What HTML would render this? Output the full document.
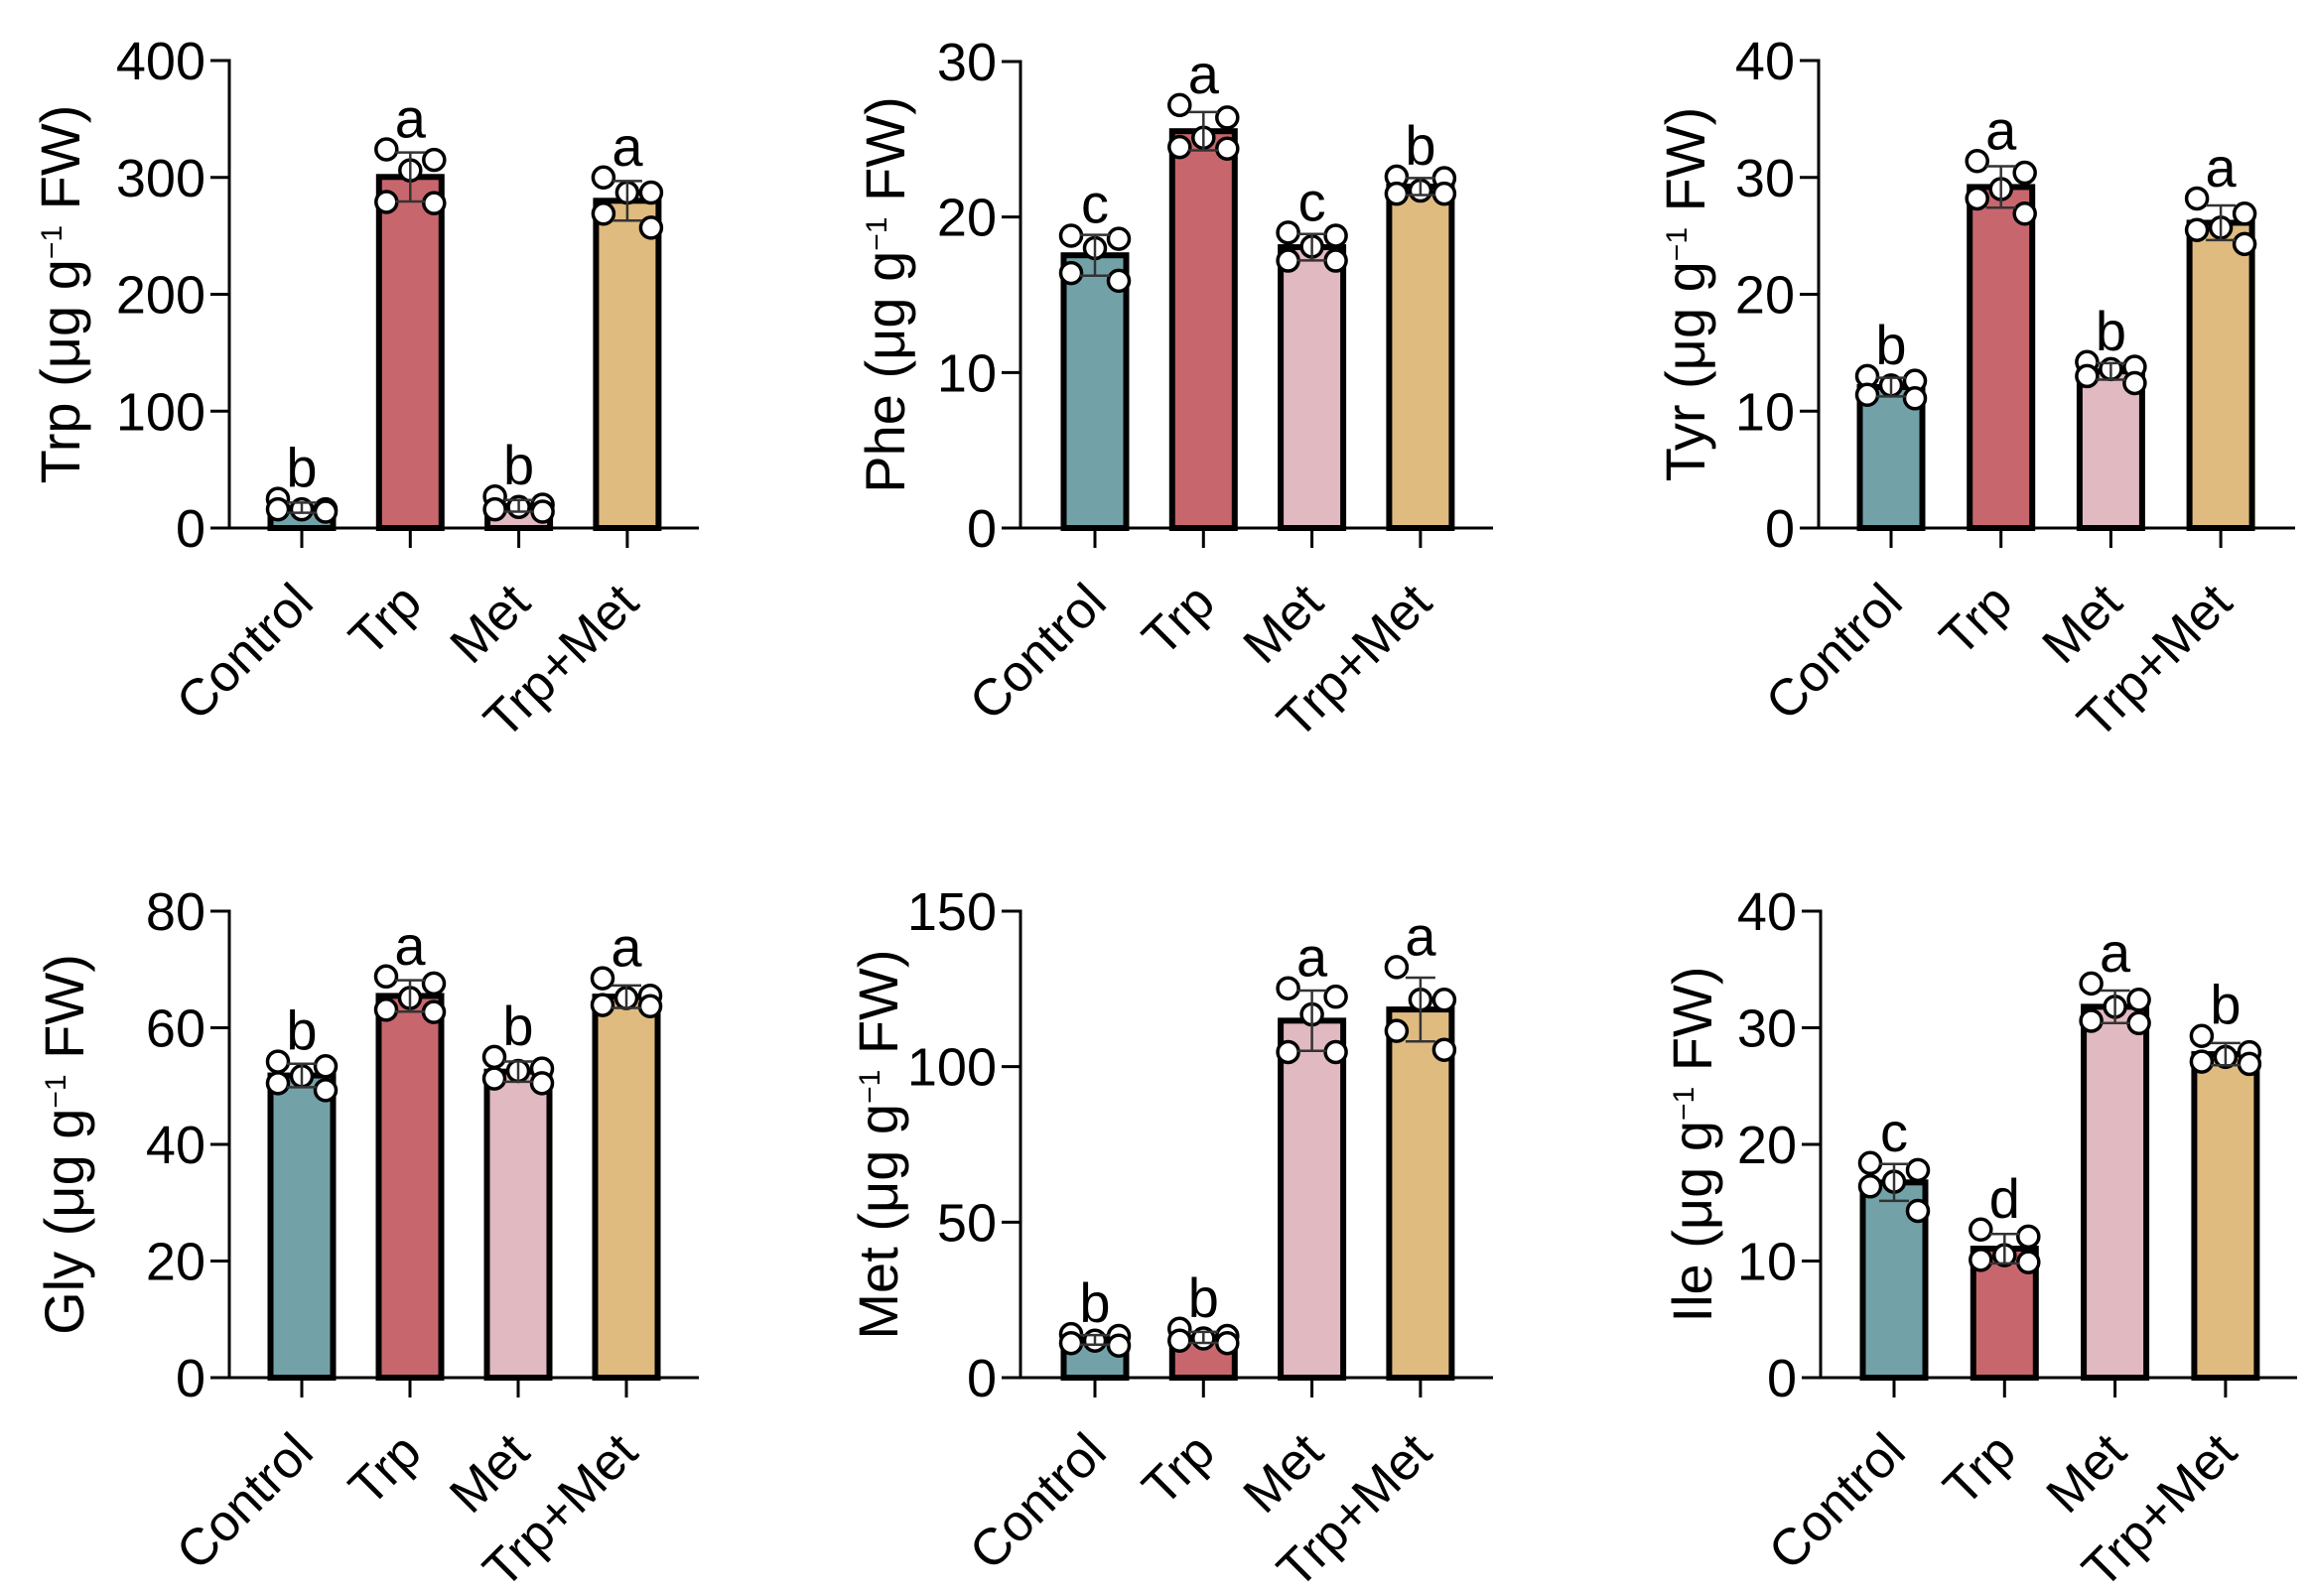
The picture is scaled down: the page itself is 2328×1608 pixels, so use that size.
<!DOCTYPE html>
<html><head><meta charset="utf-8"><style>
html,body{margin:0;padding:0;background:#fff;}
svg{display:block;font-family:"Liberation Sans",Arial,sans-serif;}
</style></head><body>
<svg id="fig" width="2328" height="1608" viewBox="0 0 2328 1608" xmlns="http://www.w3.org/2000/svg"></svg>
<script>
const categories = ["Control","Trp","Met","Trp+Met"];
const barColors = ["#72a2a8","#c7676d","#e1b9c1","#dfbb80"];

// Replicate values per panel (5 points per group)
const trpPoints = [[25,16,16,16,14],[324,315,306,279,278],[27,20,18,16,14],[300,287,287,269,257]];
const phePoints = [[18.8,18.6,18.0,16.4,15.9],[27.2,26.4,25.1,24.5,24.4],[19.0,18.8,18.1,17.2,17.2],[22.6,22.5,21.7,21.5,21.5]];
const tyrPoints = [[13.0,12.6,12.2,11.4,11.1],[31.4,30.4,29.0,28.2,26.9],[14.2,13.8,13.6,13.0,12.4],[28.2,26.9,25.7,25.5,24.3]];
const glyPoints = [[54.2,53.4,51.7,50.5,49.3],[68.8,67.6,65.1,63.1,62.7],[55.0,53.0,52.6,51.3,50.5],[68.5,65.5,65.1,63.9,63.7]];
const metPoints = [[14.0,13.4,11.9,11.1,10.3],[15.7,13.4,12.6,11.9,11.1],[125.2,122.5,116.8,104.7,104.7],[132.0,121.5,121.5,111.5,105.4]];
const ilePoints = [[18.4,17.8,16.8,16.4,14.3],[12.7,12.1,10.5,10.1,9.9],[33.8,32.4,31.8,30.6,30.4],[29.3,27.9,27.5,27.1,26.9]];

// Significance letters
const trpLetters = ["b","a","b","a"];
const pheLetters = ["c","a","c","b"];
const tyrLetters = ["b","a","b","a"];
const glyLetters = ["b","a","b","a"];
const metLetters = ["b","b","a","a"];
const ileLetters = ["c","d","a","b"];

// Tick labels
const trpTicks = [0,100,200,300,400];
const pheTicks = [0,10,20,30];
const tyrTicks = [0,10,20,30,40];
const glyTicks = [0,20,40,60,80];
const metTicks = [0,50,100,150];
const ileTicks = [0,10,20,30,40];

// Layout (pixels)
const panels = [
  {name:"trp", title:"Trp", pts:trpPoints, letters:trpLetters, ticks:trpTicks, ax:231, top:61, bot:532, end:704, c0:304, step:109.3, lab:80},
  {name:"phe", title:"Phe", pts:phePoints, letters:pheLetters, ticks:pheTicks, ax:1028, top:62, bot:532, end:1504, c0:1103, step:109.3, lab:911},
  {name:"tyr", title:"Tyr", pts:tyrPoints, letters:tyrLetters, ticks:tyrTicks, ax:1832, top:61, bot:532, end:2312, c0:1905, step:110.7, lab:1717},
  {name:"gly", title:"Gly", pts:glyPoints, letters:glyLetters, ticks:glyTicks, ax:231, top:918, bot:1388, end:704, c0:304, step:109, lab:84},
  {name:"met", title:"Met", pts:metPoints, letters:metLetters, ticks:metTicks, ax:1028, top:918, bot:1388, end:1504, c0:1103, step:109.3, lab:904},
  {name:"ile", title:"Ile", pts:ilePoints, letters:ileLetters, ticks:ileTicks, ax:1834, top:918, bot:1388, end:2314, c0:1908, step:111.3, lab:1724}
];
const jitter = [-24,24,0,-24,24];
const NS = "http://www.w3.org/2000/svg";
const svg = document.getElementById("fig");
function mk(tag, attrs, parent){
  const e = document.createElementNS(NS, tag);
  for (const k in attrs) e.setAttribute(k, attrs[k]);
  (parent||svg).appendChild(e);
  return e;
}
panels.forEach(p=>{
  const g = mk("g",{});
  
  
  const maxV = p.ticks[p.ticks.length-1];
  const y = v => p.bot - (v/maxV)*(p.bot-p.top);
  const x = i => p.c0 + i*p.step;
  const ya = mk("line",{x1:p.ax,y1:p.top-1.5,x2:p.ax,y2:p.bot,stroke:"#000","stroke-width":3},g);
  
  
  p.ticks.forEach(t=>{
    const tl = mk("line",{x1:p.ax-19,y1:y(t),x2:p.ax,y2:y(t),stroke:"#000","stroke-width":3},g);
    
    
    const tt = mk("text",{x:p.ax-24,y:y(t)+19,"text-anchor":"end","font-size":54,fill:"#000"},g);
    tt.textContent = t;
    
    
  });
  const cy = (p.top+p.bot)/2;
  const yt = mk("text",{x:p.lab,y:cy,transform:`rotate(-90 ${p.lab} ${cy})`,"text-anchor":"middle","font-size":56,fill:"#000"},g);
  yt.innerHTML = p.title + ' (μg g<tspan font-size="30" dy="-18">−1</tspan><tspan dy="18"> FW)</tspan>';
  
  
  categories.forEach((c,i)=>{
    const vals = p.pts[i];
    const mean = vals.reduce((a,b)=>a+b,0)/vals.length;
    const sd = Math.sqrt(vals.reduce((a,b)=>a+(b-mean)*(b-mean),0)/(vals.length-1));
    const cx = x(i);
    const bar = mk("rect",{x:cx-31.5,y:y(mean),width:63,height:p.bot-y(mean),fill:barColors[i],stroke:"#000","stroke-width":6},g);
    
    
    vals.forEach((v,j)=>{
      const pt = mk("circle",{cx:cx+jitter[j],cy:y(v),r:10.5,fill:"#fff",stroke:"#000","stroke-width":3.5},g);
      
      
    });
    const eg = mk("g",{stroke:"#333","stroke-width":2.5},g);
    
    
    mk("line",{x1:cx,y1:y(mean+sd),x2:cx,y2:y(mean-sd)},eg);
    mk("line",{x1:cx-15,y1:y(mean+sd),x2:cx+15,y2:y(mean+sd)},eg);
    mk("line",{x1:cx-15,y1:y(mean-sd),x2:cx+15,y2:y(mean-sd)},eg);
    const topV = Math.max(Math.max(...vals), mean+sd);
    const lt = mk("text",{x:cx,y:Math.min(y(topV)-12, y(mean+sd)-4),"text-anchor":"middle","font-size":56,fill:"#000"},g);
    lt.textContent = p.letters[i];
    
    
    const xt = mk("line",{x1:cx,y1:p.bot,x2:cx,y2:p.bot+20,stroke:"#000","stroke-width":3},g);
    
    
    const ex = cx+14, ey = p.bot+78;
    const xl = mk("text",{x:ex,y:ey,transform:`rotate(-45 ${ex} ${ey})`,"text-anchor":"end","font-size":52,fill:"#000"},g);
    xl.textContent = c;
    
    
  });
  const xa = mk("line",{x1:p.ax-19,y1:p.bot,x2:p.end,y2:p.bot,stroke:"#000","stroke-width":3},g);
  
  
});
</script>
</body></html>
